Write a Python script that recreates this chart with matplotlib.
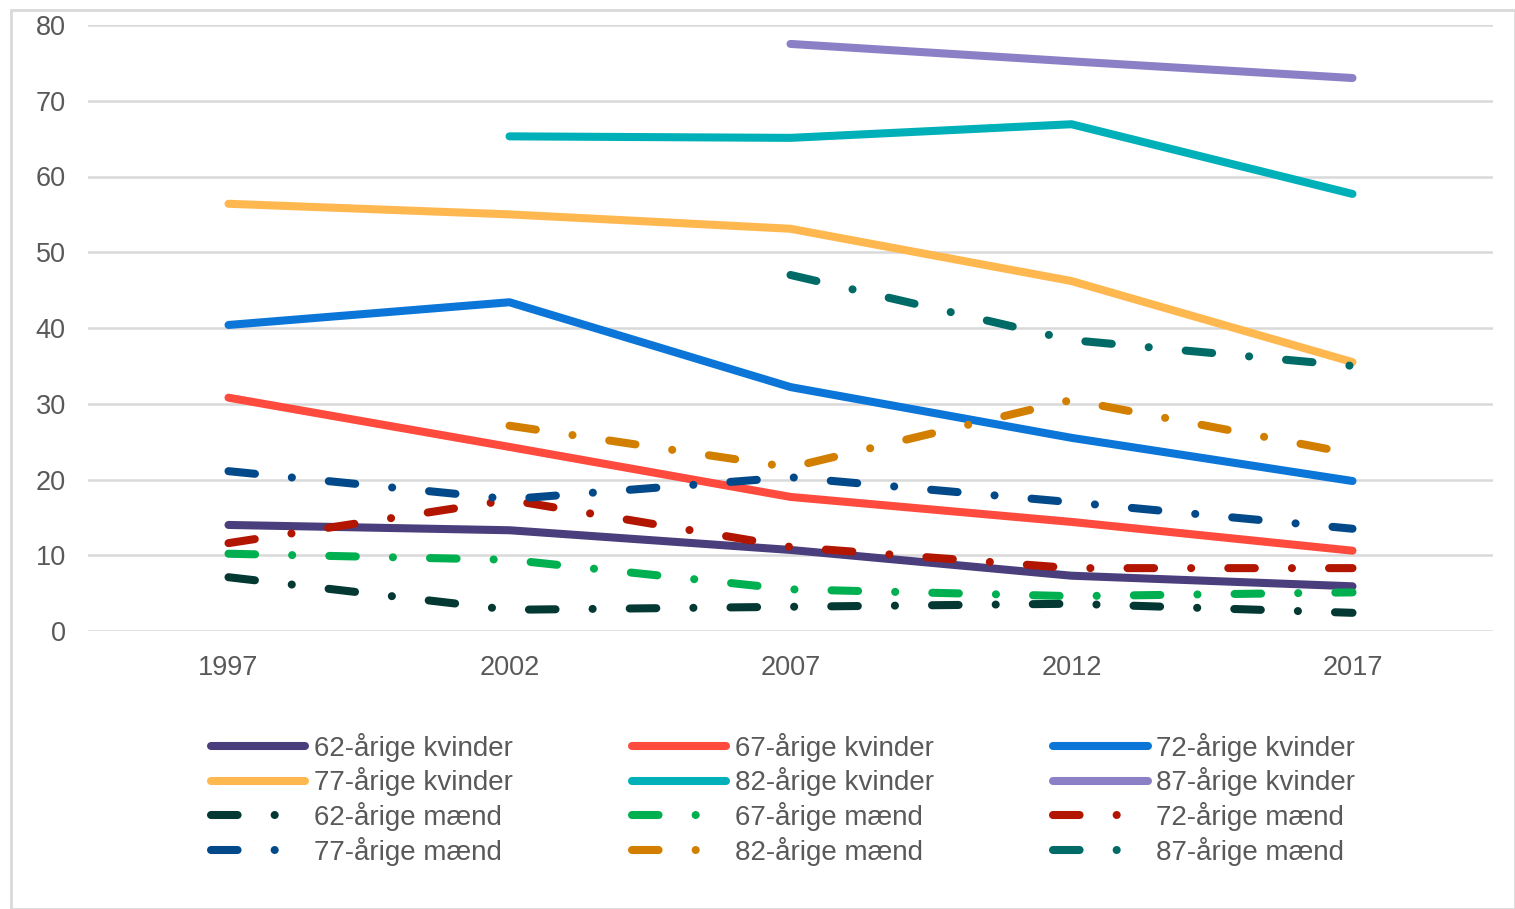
import matplotlib.pyplot as plt
from matplotlib.patches import Rectangle

years = [1997, 2002, 2007, 2012, 2017]

kvinder_62 = [14.0, 13.3, 10.7, 7.3, 5.9]
kvinder_67 = [30.8, 24.3, 17.7, 14.4, 10.6]
kvinder_72 = [40.4, 43.4, 32.2, 25.5, 19.8]
kvinder_77 = [56.4, 55.0, 53.1, 46.2, 35.5]
kvinder_82 = [None, 65.3, 65.1, 66.9, 57.7]
kvinder_87 = [None, None, 77.5, 75.2, 73.0]

maend_62 = [7.1, 2.8, 3.2, 3.6, 2.4]
maend_67 = [10.2, 9.4, 5.5, 4.6, 5.1]
maend_72 = [11.6, 17.3, 11.1, 8.3, 8.3]
maend_77 = [21.1, 17.4, 20.3, 17.0, 13.5]
maend_82 = [None, 27.1, 21.6, 30.5, 23.4]
maend_87 = [None, None, 47.0, 38.4, 35.0]

series = [
    ("62-årige kvinder", kvinder_62, "#4A3F7C", "solid"),
    ("67-årige kvinder", kvinder_67, "#FF4B3E", "solid"),
    ("72-årige kvinder", kvinder_72, "#0B76D8", "solid"),
    ("77-årige kvinder", kvinder_77, "#FFB84F", "solid"),
    ("82-årige kvinder", kvinder_82, "#00B0B8", "solid"),
    ("87-årige kvinder", kvinder_87, "#8B80C6", "solid"),
    ("62-årige mænd", maend_62, "#033833", "dashdot"),
    ("67-årige mænd", maend_67, "#00B050", "dashdot"),
    ("72-årige mænd", maend_72, "#B21500", "dashdot"),
    ("77-årige mænd", maend_77, "#02498A", "dashdot"),
    ("82-årige mænd", maend_82, "#D27F00", "dashdot"),
    ("87-årige mænd", maend_87, "#006B66", "dashdot"),
]

plt.rcParams['font.family'] = ['Liberation Sans', 'DejaVu Sans']

fig = plt.figure(figsize=(15.15, 9.09), dpi=100)
ax = fig.add_axes([88 / 1515, 1 - 631 / 909, (1493 - 88) / 1515, (631 - 25) / 909])

for label, vals, color, style in series:
    xs = [x for x, v in zip(years, vals) if v is not None]
    ys = [v for v in vals if v is not None]
    if style == "solid":
        ax.plot(xs, ys, color=color, lw=5.8, solid_capstyle='round', label=label)
    else:
        ax.plot(xs, ys, color=color, lw=5.8, dashes=(3.3, 4.6, 0.01, 4.6),
                dash_capstyle='round', label=label)

ax.set_xlim(1994.5, 2019.5)
ax.set_ylim(0, 80)
ax.set_xticks(years)
ax.set_yticks(range(0, 81, 10))
ax.tick_params(length=0, labelsize=19.5, colors='#595959')
ax.tick_params(axis='x', pad=17.5)
ax.tick_params(axis='y', pad=16)
ax.grid(axis='y', color='#D9D9D9', lw=1.8)
ax.set_axisbelow(True)
for s in ax.spines.values():
    s.set_visible(False)

# legend is filled row by row: reorder for matplotlib's column-major fill
handles, labels = ax.get_legend_handles_labels()
ncol = 3
order = [i for c in range(ncol) for i in range(c, len(handles), ncol)]
fig.legend([handles[i] for i in order], [labels[i] for i in order],
           ncol=ncol, loc='upper left',
           bbox_to_anchor=(197 / 1515, 1 - 719 / 909),
           frameon=False, fontsize=20, labelcolor='#595959',
           handlelength=3.4, handletextpad=0.3, columnspacing=4.3,
           labelspacing=0.2, borderpad=0)

fig.patches.append(Rectangle((11 / 1515, 0), 1 - 11 / 1515, 1 - 10 / 909,
                             transform=fig.transFigure, fill=False,
                             edgecolor='#D9D9D9', lw=2))

fig.savefig("out.png", dpi=100)
